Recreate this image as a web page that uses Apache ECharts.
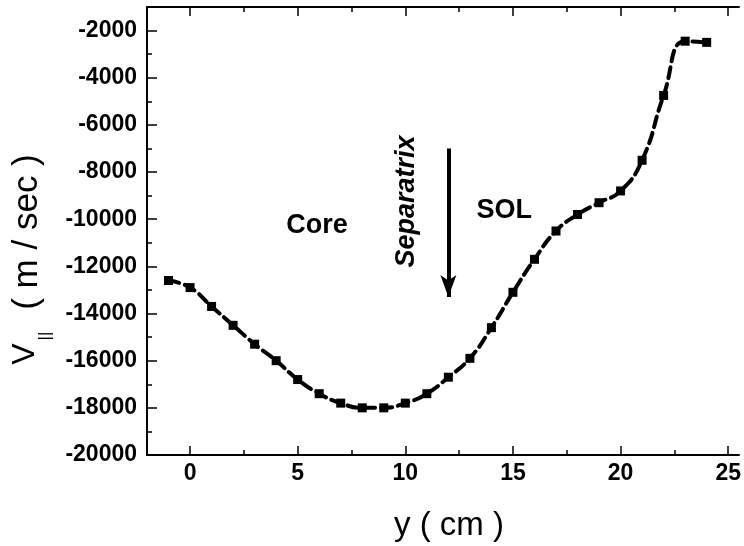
<!DOCTYPE html>
<html>
<head>
<meta charset="utf-8">
<script src="https://cdn.jsdelivr.net/npm/echarts@6/dist/echarts.min.js"></script>
<style>
  html, body { margin: 0; padding: 0; background: #fff; }
  #chart { width: 744px; height: 546px; }
</style>
</head>
<body>
<div id="chart"></div>
<script>
// y position (cm)
const yPos = [-1, 0, 1, 2, 3, 4, 5, 6, 7, 8, 9, 10, 11, 12, 13, 14, 15, 16, 17, 18, 19, 20, 21, 22, 23, 24];
// parallel velocity (m/sec)
const vPar = [-12600, -12900, -13700, -14500, -15300, -16000, -16800, -17400, -17800, -18000, -18000,
  -17800, -17400, -16700, -15900, -14600, -13100, -11700, -10500, -9800, -9300, -8800, -7500,
  -4750, -2450, -2500];

const xMajor = [0, 5, 10, 15, 20, 25];
const xMinor = [2.5, 7.5, 12.5, 17.5, 22.5];
const yMajor = [-20000, -18000, -16000, -14000, -12000, -10000, -8000, -6000, -4000, -2000];
const yMinor = [-19000, -17000, -15000, -13000, -11000, -9000, -7000, -5000, -3000];

// separatrix arrow (y, from, to)
const arrowX = 12;
const arrowFrom = -7000;
const arrowTo = -13300;

const FONT = 'Liberation Sans, Arial, Helvetica, sans-serif';

const myChart = echarts.init(document.getElementById('chart'));

function xAxisOf(pos, ticks, len, withLine, withLabel) {
  return {
    type: 'value', min: -2, max: 25.5, position: pos,
    axisLine: { show: withLine, onZero: false, lineStyle: { color: '#000', width: 2 } },
    axisTick: { show: true, inside: true, length: len, customValues: ticks, lineStyle: { color: '#000', width: 1.5 } },
    axisLabel: withLabel ? {
      show: true, customValues: ticks, margin: 7, color: '#000',
      fontSize: 23, fontWeight: 'bold', fontFamily: FONT,
      formatter: v => String(v)
    } : { show: false },
    splitLine: { show: false }
  };
}

function yAxisOf(ticks, len, withLine, withLabel) {
  return {
    type: 'value', min: -20000, max: -1000, position: 'left',
    axisLine: { show: withLine, onZero: false, lineStyle: { color: '#000', width: 2 } },
    axisTick: { show: true, inside: true, length: len, customValues: ticks, lineStyle: { color: '#000', width: 1.5 } },
    axisLabel: withLabel ? {
      show: true, customValues: ticks, margin: 10, color: '#000',
      fontSize: 23, fontWeight: 'bold', fontFamily: FONT,
      formatter: v => String(v)
    } : { show: false },
    splitLine: { show: false }
  };
}

const option = {
  animation: false,
  backgroundColor: '#fff',
  grid: { left: 147, right: 0, top: 7, bottom: 91 },
  xAxis: [
    xAxisOf('bottom', xMajor, 9, true, true),
    xAxisOf('bottom', xMinor, 5, false, false),
    xAxisOf('top', xMajor, 9, true, false),
    xAxisOf('top', xMinor, 5, false, false)
  ],
  yAxis: [
    yAxisOf(yMajor, 10, true, true),
    yAxisOf(yMinor, 5, false, false)
  ],
  graphic: [
    // y-axis title: V|| ( m / sec )
    { type: 'text', x: 25, y: 354, rotation: Math.PI / 2,
      style: { text: 'V', fontSize: 32, fontFamily: FONT, fill: '#000', align: 'center', verticalAlign: 'middle' } },
    { type: 'text', x: 45, y: 336, rotation: Math.PI / 2,
      style: { text: '||', fontSize: 17, fontFamily: FONT, fill: '#000', align: 'center', verticalAlign: 'middle' } },
    { type: 'text', x: 27, y: 232, rotation: Math.PI / 2,
      style: { text: '( m / sec )', fontSize: 35, fontFamily: FONT, fill: '#000', align: 'center', verticalAlign: 'middle' } },
    // x-axis title
    { type: 'text', x: 449, y: 526,
      style: { text: 'y ( cm )', fontSize: 33, fontFamily: FONT, fill: '#000', align: 'center', verticalAlign: 'middle' } }
  ],
  series: [{
    type: 'line',
    xAxisIndex: 0,
    yAxisIndex: 0,
    data: yPos.map((x, i) => [x, vPar[i]]),
    smooth: 0.5,
    symbol: 'rect',
    symbolSize: 9,
    itemStyle: { color: '#000' },
    lineStyle: { color: '#000', width: 4, type: [11, 6], cap: 'round' },
    markLine: {
      silent: true,
      symbol: ['none', 'arrow'],
      symbolSize: [12, 22],
      lineStyle: { color: '#000', width: 4, type: 'solid' },
      label: { show: false },
      data: [[{ coord: [arrowX, arrowFrom] }, { coord: [arrowX, arrowTo] }]]
    },
    markPoint: {
      silent: true,
      symbol: 'rect',
      symbolSize: 1,
      itemStyle: { color: 'rgba(0,0,0,0)' },
      label: {
        show: true, position: 'inside', color: '#000',
        fontSize: 27, fontWeight: 'bold', fontFamily: FONT
      },
      data: [
        { coord: [5.9, -10250], label: { formatter: 'Core' } },
        { coord: [14.6, -9650], label: { formatter: 'SOL' } },
        { coord: [10.05, -9250], label: { formatter: 'Separatrix', rotate: 90, fontStyle: 'italic' } }
      ]
    }
  }]
};

myChart.setOption(option);
window.addEventListener('resize', function () {
  myChart.resize();
});
</script>
</body>
</html>
